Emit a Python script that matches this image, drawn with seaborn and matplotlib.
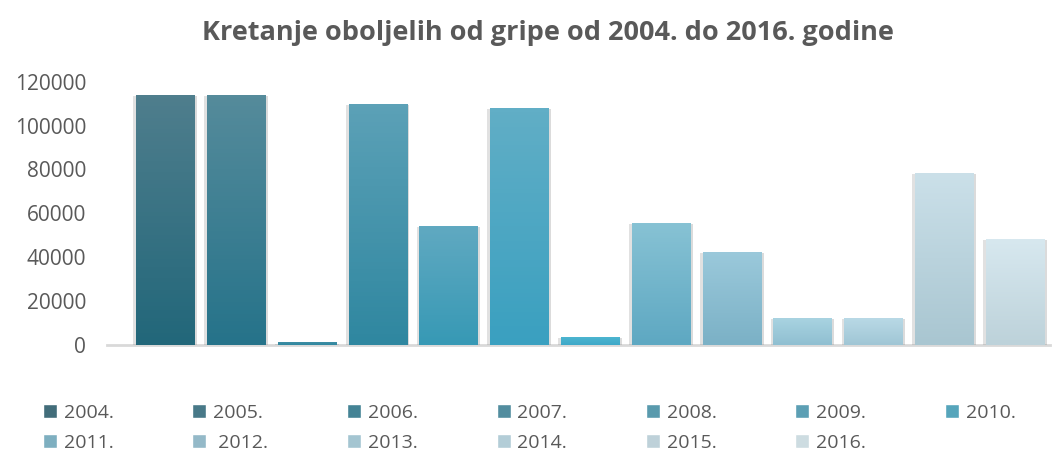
import numpy as np
import pandas as pd
import matplotlib
matplotlib.use("Agg")
import matplotlib.pyplot as plt
import matplotlib.patheffects as pe
from matplotlib.colors import to_rgb
import seaborn as sns

# --- data ---
godine = ["2004.", "2005.", "2006.", "2007.", "2008.", "2009.", "2010.",
          "2011.", " 2012.", "2013.", "2014.", "2015.", "2016."]
oboljeli = [114000, 114000, 1200, 110000, 54200, 108000, 3600,
            55600, 42400, 12300, 12300, 78400, 48300]

# gradient colours per bar (top, bottom)
boje_gore = ["#4f7e8d", "#558b9b", "#3f8ea4", "#5ca1b7", "#60a9c1", "#61aec6", "#4cb5d0",
             "#87c2d4", "#9bc9db", "#a9d3e1", "#b9d9e6", "#cbe0e9", "#d7e8ef"]
boje_dolje = ["#22677a", "#26738a", "#2f87a0", "#2f87a0", "#3799b5", "#3aa0c0", "#3ea8c8",
              "#5ea8c2", "#7bb1c6", "#8fbfd1", "#a0c6d5", "#a9c6d1", "#bdd2da"]

siva = "#595959"

sns.set_theme(style="white")
plt.rcParams["font.family"] = ["Open Sans", "DejaVu Sans"]

df = pd.DataFrame({"godina": godine, "oboljeli": oboljeli})
paleta = [tuple((np.array(to_rgb(a)) + np.array(to_rgb(b))) / 2) for a, b in zip(boje_gore, boje_dolje)]

fig = plt.figure(figsize=(10.57, 4.62), dpi=100)
ax = fig.add_axes([107 / 1057, 1 - 345 / 462, 943.4 / 1057, 263.3 / 462])

sns.barplot(data=df, x="godina", y="oboljeli", hue="godina", palette=paleta,
            width=0.82, legend=True, ax=ax, zorder=2)

# gradient fill + soft shadow for each bar
sjena = [pe.SimplePatchShadow(offset=(2, -1), shadow_rgbFace="#888888", alpha=0.3),
         pe.SimplePatchShadow(offset=(-2, -1), shadow_rgbFace="#888888", alpha=0.25),
         pe.Normal()]
for p, top, bot in zip(ax.patches, boje_gore, boje_dolje):
    x0, y0 = p.get_x(), p.get_y()
    w, h = p.get_width(), p.get_height()
    if h <= 0:
        continue
    grad = np.linspace(0, 1, 64)[:, None, None]
    img = (1 - grad) * np.array(to_rgb(top)) + grad * np.array(to_rgb(bot))
    im = ax.imshow(img, extent=[x0, x0 + w, y0, y0 + h], aspect="auto",
                   origin="upper", zorder=3)
    im.set_clip_path(p)
    p.set_path_effects(sjena)
    p.set_edgecolor("none")

ax.set_xlim(-0.82, 12.5)
ax.set_ylim(0, 120000)
ax.set_yticks(range(0, 120001, 20000))
ax.set_xticks([])
ax.set_xlabel("")
ax.set_ylabel("")
ax.tick_params(axis="y", length=0, pad=15, labelsize=15, labelcolor=siva)
for s in ["top", "right", "left"]:
    ax.spines[s].set_visible(False)
ax.spines["bottom"].set_color("#d9d9d9")
ax.spines["bottom"].set_linewidth(2)
ax.spines["bottom"].set_zorder(1)

fig.suptitle("Kretanje oboljelih od gripe od 2004. do 2016. godine", x=548 / 1057, y=1 - 33 / 462,
             va="center", fontsize=19.5, fontweight="bold", color=siva)

# legend filled row by row (matplotlib fills columns first)
handles, labels = ax.get_legend_handles_labels()
ax.get_legend().remove()
red = [0, 7, 1, 8, 2, 9, 3, 10, 4, 11, 5, 12, 6]
leg = fig.legend([handles[i] for i in red], [labels[i] for i in red], ncol=7, loc="upper left",
                 bbox_to_anchor=(43 / 1057, 1 - 404 / 462), borderaxespad=0, borderpad=0,
                 frameon=False, fontsize=14, handlelength=0.72, handleheight=0.72,
                 handletextpad=0.35, columnspacing=4.05, labelspacing=0.6)
for t in leg.get_texts():
    t.set_color(siva)

fig.savefig("out.png", dpi=100)
